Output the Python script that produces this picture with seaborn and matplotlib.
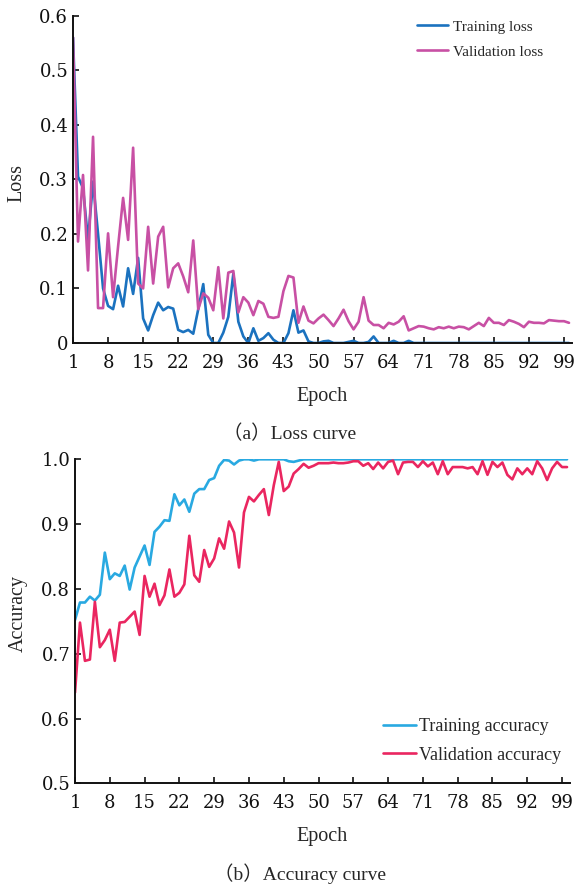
import matplotlib
matplotlib.use("Agg")
import matplotlib.pyplot as plt
import seaborn as sns
import numpy as np
import pandas as pd

epochs = list(range(1, 101))
x_ticks = list(range(1, 100, 7))

train_loss = [0.56, 0.305, 0.284, 0.189, 0.296, 0.2, 0.1, 0.068, 0.062, 0.105,
              0.067, 0.137, 0.09, 0.156, 0.045, 0.023, 0.051, 0.074, 0.06, 0.066,
              0.063, 0.024, 0.02, 0.024, 0.017, 0.062, 0.108, 0.015, 0.0, 0.0,
              0.019, 0.048, 0.127, 0.039, 0.012, 0.0, 0.027, 0.004, 0.009, 0.018,
              0.006, 0.0, 0.0, 0.018, 0.06, 0.019, 0.023, 0.003, 0.0, 0.0,
              0.003, 0.004, 0.0, 0.0, 0.0, 0.002, 0.004, 0.0, 0.0, 0.002,
              0.012, 0.0, 0.0, 0.0, 0.004, 0.0, 0.0, 0.004, 0.0, 0.0,
              0.0, 0.0, 0.0, 0.0, 0.0, 0.0, 0.0, 0.0, 0.0, 0.0,
              0.0, 0.0, 0.0, 0.0, 0.0, 0.0, 0.0, 0.0, 0.0, 0.0,
              0.0, 0.0, 0.0, 0.0, 0.0, 0.0, 0.0, 0.0, 0.0, 0.0]

val_loss = [0.56, 0.186, 0.308, 0.133, 0.378, 0.064, 0.064, 0.201, 0.084, 0.177,
            0.266, 0.189, 0.358, 0.109, 0.1, 0.213, 0.109, 0.195, 0.213, 0.102,
            0.137, 0.146, 0.122, 0.093, 0.188, 0.062, 0.091, 0.083, 0.06, 0.139,
            0.045, 0.129, 0.132, 0.056, 0.084, 0.074, 0.051, 0.077, 0.072, 0.048,
            0.046, 0.048, 0.095, 0.123, 0.12, 0.037, 0.067, 0.041, 0.036, 0.045,
            0.052, 0.042, 0.031, 0.045, 0.061, 0.04, 0.025, 0.039, 0.084, 0.041,
            0.033, 0.033, 0.027, 0.037, 0.034, 0.039, 0.049, 0.023, 0.027, 0.031,
            0.03, 0.027, 0.025, 0.029, 0.027, 0.03, 0.027, 0.03, 0.029, 0.025,
            0.031, 0.037, 0.031, 0.046, 0.037, 0.037, 0.033, 0.042, 0.039, 0.035,
            0.029, 0.039, 0.037, 0.037, 0.036, 0.042, 0.041, 0.04, 0.04, 0.037]

train_acc = [0.752, 0.779, 0.779, 0.788, 0.782, 0.791, 0.856, 0.815, 0.824, 0.82,
             0.836, 0.799, 0.833, 0.85, 0.867, 0.837, 0.888, 0.896, 0.906, 0.905,
             0.946, 0.929, 0.938, 0.919, 0.947, 0.954, 0.954, 0.968, 0.971, 0.99,
             0.999, 0.998, 0.992, 0.998, 1.0, 1.0, 0.998, 1.0, 1.0, 1.0,
             1.0, 1.0, 1.0, 0.997, 0.996, 0.998, 1.0, 1.0, 1.0, 1.0,
             1.0, 1.0, 1.0, 1.0, 1.0, 1.0, 1.0, 1.0, 1.0, 1.0,
             1.0, 1.0, 1.0, 1.0, 1.0, 1.0, 1.0, 1.0, 1.0, 1.0,
             1.0, 1.0, 1.0, 1.0, 1.0, 1.0, 1.0, 1.0, 1.0, 1.0,
             1.0, 1.0, 1.0, 1.0, 1.0, 1.0, 1.0, 1.0, 1.0, 1.0,
             1.0, 1.0, 1.0, 1.0, 1.0, 1.0, 1.0, 1.0, 1.0, 1.0]

val_acc = [0.64, 0.748, 0.689, 0.691, 0.78, 0.71, 0.721, 0.737, 0.689, 0.748,
           0.749, 0.757, 0.765, 0.729, 0.82, 0.788, 0.808, 0.775, 0.79, 0.83,
           0.788, 0.794, 0.807, 0.882, 0.821, 0.811, 0.86, 0.834, 0.847, 0.878,
           0.862, 0.904, 0.887, 0.833, 0.918, 0.942, 0.935, 0.945, 0.954, 0.914,
           0.96, 0.996, 0.951, 0.958, 0.978, 0.985, 0.993, 0.987, 0.99, 0.994,
           0.994, 0.994, 0.995, 0.994, 0.994, 0.995, 0.997, 0.997, 0.99, 0.994,
           0.985, 0.995, 0.986, 0.996, 0.998, 0.977, 0.995, 0.996, 0.996, 0.988,
           0.997, 0.989, 0.995, 0.977, 0.997, 0.977, 0.988, 0.988, 0.988, 0.986,
           0.988, 0.977, 0.997, 0.976, 0.996, 0.988, 0.995, 0.976, 0.969, 0.986,
           0.977, 0.986, 0.977, 0.997, 0.986, 0.968, 0.986, 0.996, 0.988, 0.988]

loss_yticks = [0, 0.1, 0.2, 0.3, 0.4, 0.5, 0.6]
loss_yticklabels = ["0", "0.1", "0.2", "0.3", "0.4", "0.5", "0.6"]
acc_yticks = [0.5, 0.6, 0.7, 0.8, 0.9, 1.0]
acc_yticklabels = ["0.5", "0.6", "0.7", "0.8", "0.9", "1.0"]

sns.set_style("ticks")
plt.rcParams['font.family'] = ['Liberation Serif', 'Noto Sans CJK SC', 'DejaVu Sans']

W, H = 575, 886
fig = plt.figure(figsize=(W / 100, H / 100), dpi=100)

def fx(px):
    return px / W

def fy(py):
    return 1 - py / H

ax1 = fig.add_axes([fx(73), fy(343), fx(572 - 73), (343 - 15.7) / H])
ax2 = fig.add_axes([fx(75), fy(783.3), fx(570 - 75), (783.3 - 459.3) / H])

c_tl = "#1b72bf"
c_vl = "#c850a4"
c_ta = "#29a9e1"
c_va = "#ea2660"
lw = 1.9

sns.lineplot(x=epochs, y=train_loss, ax=ax1, color=c_tl, linewidth=lw, label="Training loss")
sns.lineplot(x=epochs, y=val_loss, ax=ax1, color=c_vl, linewidth=lw, label="Validation loss")
sns.lineplot(x=epochs, y=train_acc, ax=ax2, color=c_ta, linewidth=lw, label="Training accuracy")
sns.lineplot(x=epochs, y=val_acc, ax=ax2, color=c_va, linewidth=lw, label="Validation accuracy")

tick_font = ['DejaVu Serif']
for ax in (ax1, ax2):
    ax.set_xlim(1, 100.6)
    ax.set_xticks(x_ticks)
    ax.set_xticklabels([str(t) for t in x_ticks], family=tick_font)
    for s in ("top", "right"):
        ax.spines[s].set_visible(False)
    for s in ("left", "bottom"):
        ax.spines[s].set_linewidth(1.4)
        ax.spines[s].set_color("#111111")
    ax.tick_params(axis="both", direction="in", length=4.5, width=1.2,
                   labelsize=13, colors="#111111")
    ax.tick_params(axis="x", pad=8)
    ax.tick_params(axis="y", pad=3.5)
    ax.set_facecolor("white")

ax1.set_ylim(0, 0.6)
ax1.set_yticks(loss_yticks)
ax1.set_yticklabels(loss_yticklabels, family=tick_font)
ax2.set_ylim(0.5, 1.0)
ax2.set_yticks(acc_yticks)
ax2.set_yticklabels(acc_yticklabels, family=tick_font)

ax1.set_ylabel("Loss", fontsize=14.5)
ax1.set_xlabel("Epoch", fontsize=14.5)
ax2.set_ylabel("Accuracy", fontsize=14.5)
ax2.set_xlabel("Epoch", fontsize=14.5)
for ax in (ax1, ax2):
    ax.xaxis.label.set_va("center")
    ax.yaxis.label.set_va("center")

ax1.xaxis.set_label_coords(0.5, -(396 - 343) / (343 - 15.7))
ax2.xaxis.set_label_coords(0.5, -(836 - 783.3) / (783.3 - 459.3))
ax1.yaxis.set_label_coords(-(73 - 17) / (572 - 73), (343 - 183) / (343 - 15.7))
ax2.yaxis.set_label_coords(-(75 - 18) / (570 - 75), (783.3 - 613) / (783.3 - 459.3))

ax1.legend(loc="upper left", bbox_to_anchor=(fx(417), fy(20)),
           bbox_transform=fig.transFigure, frameon=False, fontsize=11,
           handlelength=2.0, handletextpad=0.35, labelspacing=0.75,
           borderpad=0, borderaxespad=0)
ax2.legend(loc="upper left", bbox_to_anchor=(fx(383), fy(718)),
           bbox_transform=fig.transFigure, frameon=False, fontsize=13,
           handlelength=1.8, handletextpad=0.2, labelspacing=0.65,
           borderpad=0, borderaxespad=0)

fig.text(fx(290), fy(434), "（a）Loss curve", ha="center", va="center", fontsize=14)
fig.text(fx(300), fy(874), "（b）Accuracy curve", ha="center", va="center", fontsize=14)

fig.savefig("out.png", dpi=100, facecolor="white")
